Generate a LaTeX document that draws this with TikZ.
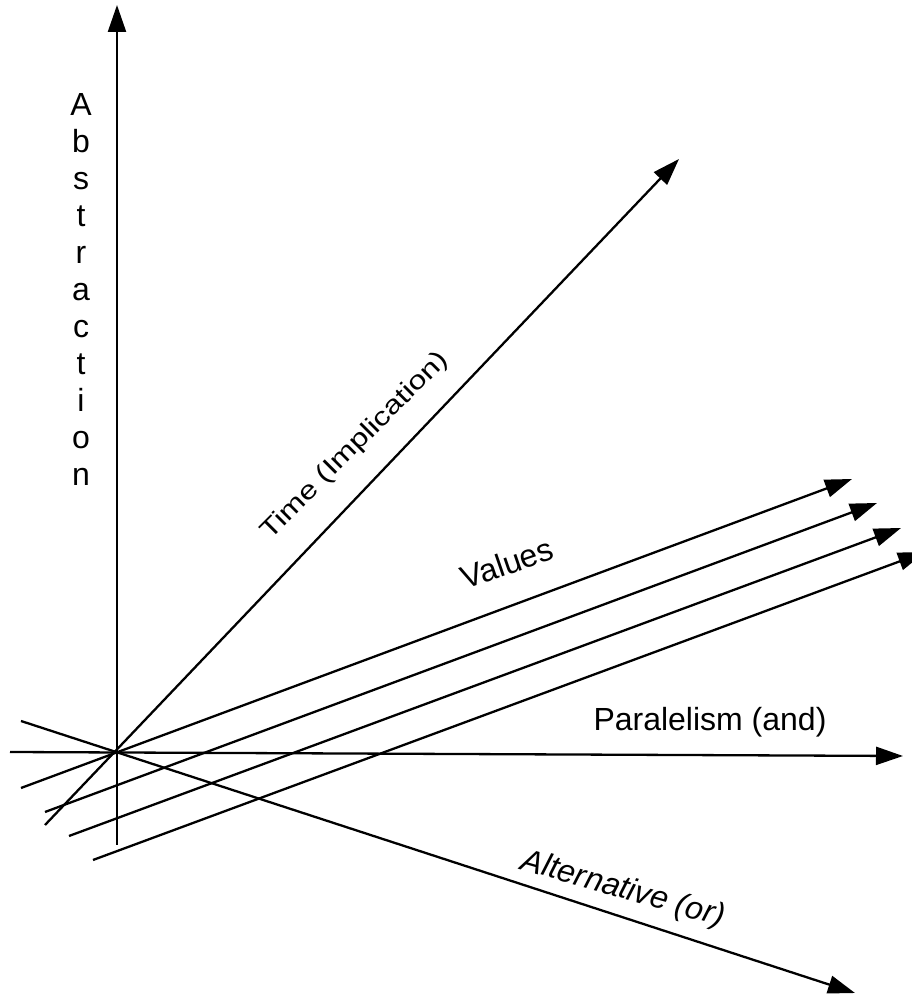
\documentclass[tikz,border=0pt]{standalone}
\usepackage{fontspec}
\setmainfont{Liberation Sans}
\usetikzlibrary{arrows.meta}
\tikzstyle{axis} = [line width=2.3pt, -{Triangle[length=27pt,width=18pt]}]
\tikzstyle{axlabel} = [inner sep=0pt, font=\fontsize{32}{37}\selectfont]

\begin{document}
\begin{tikzpicture}[x=1pt, y=1pt]
  \useasboundingbox (0,0) rectangle (912,997);
  % end points of the axes
  \coordinate (o) at (117,246);
  \coordinate (absbot) at (117,152);
  \coordinate (abstop) at (117,992);
  \coordinate (parstart) at (10,245);
  \coordinate (parend) at (903,241);
  \coordinate (altstart) at (21,276);
  \coordinate (altend) at (855,4);
  \coordinate (timestart) at (45,172);
  \coordinate (timeend) at (679,838);
  \coordinate (vala) at (21,209);
  \coordinate (valaend) at (852,518);
  \coordinate (valb) at (45,185);
  \coordinate (valbend) at (877,494);
  \coordinate (valc) at (69,161);
  \coordinate (valcend) at (901,469);
  \coordinate (vald) at (93,137);
  \coordinate (valdend) at (925,445);
  % labels
  \node (abstr)[axlabel, align=center, anchor=north] at (81,904) {A\\b\\s\\t\\r\\a\\c\\t\\i\\o\\n};
  \node (time)[axlabel, rotate=45, yscale=0.8] at (355,551) {Time (Implication)};
  \node (values)[axlabel, rotate=19] at (507,434) {Values};
  \node (par)[axlabel] at (710,275) {Paralelism (and)};
  \node (alt)[axlabel, rotate=-16, font=\fontsize{32}{37}\selectfont\itshape] at (623,107) {Alternative (or)};
  % axes
  \draw[axis] (absbot)--(abstop);
  \draw[axis] (parstart)--(parend);
  \draw[axis] (altstart)--(altend);
  \draw[axis] (timestart)--(timeend);
  \draw[axis] (vala)--(valaend);
  \draw[axis] (valb)--(valbend);
  \draw[axis] (valc)--(valcend);
  \draw[axis] (vald)--(valdend);
\end{tikzpicture}
\end{document}
